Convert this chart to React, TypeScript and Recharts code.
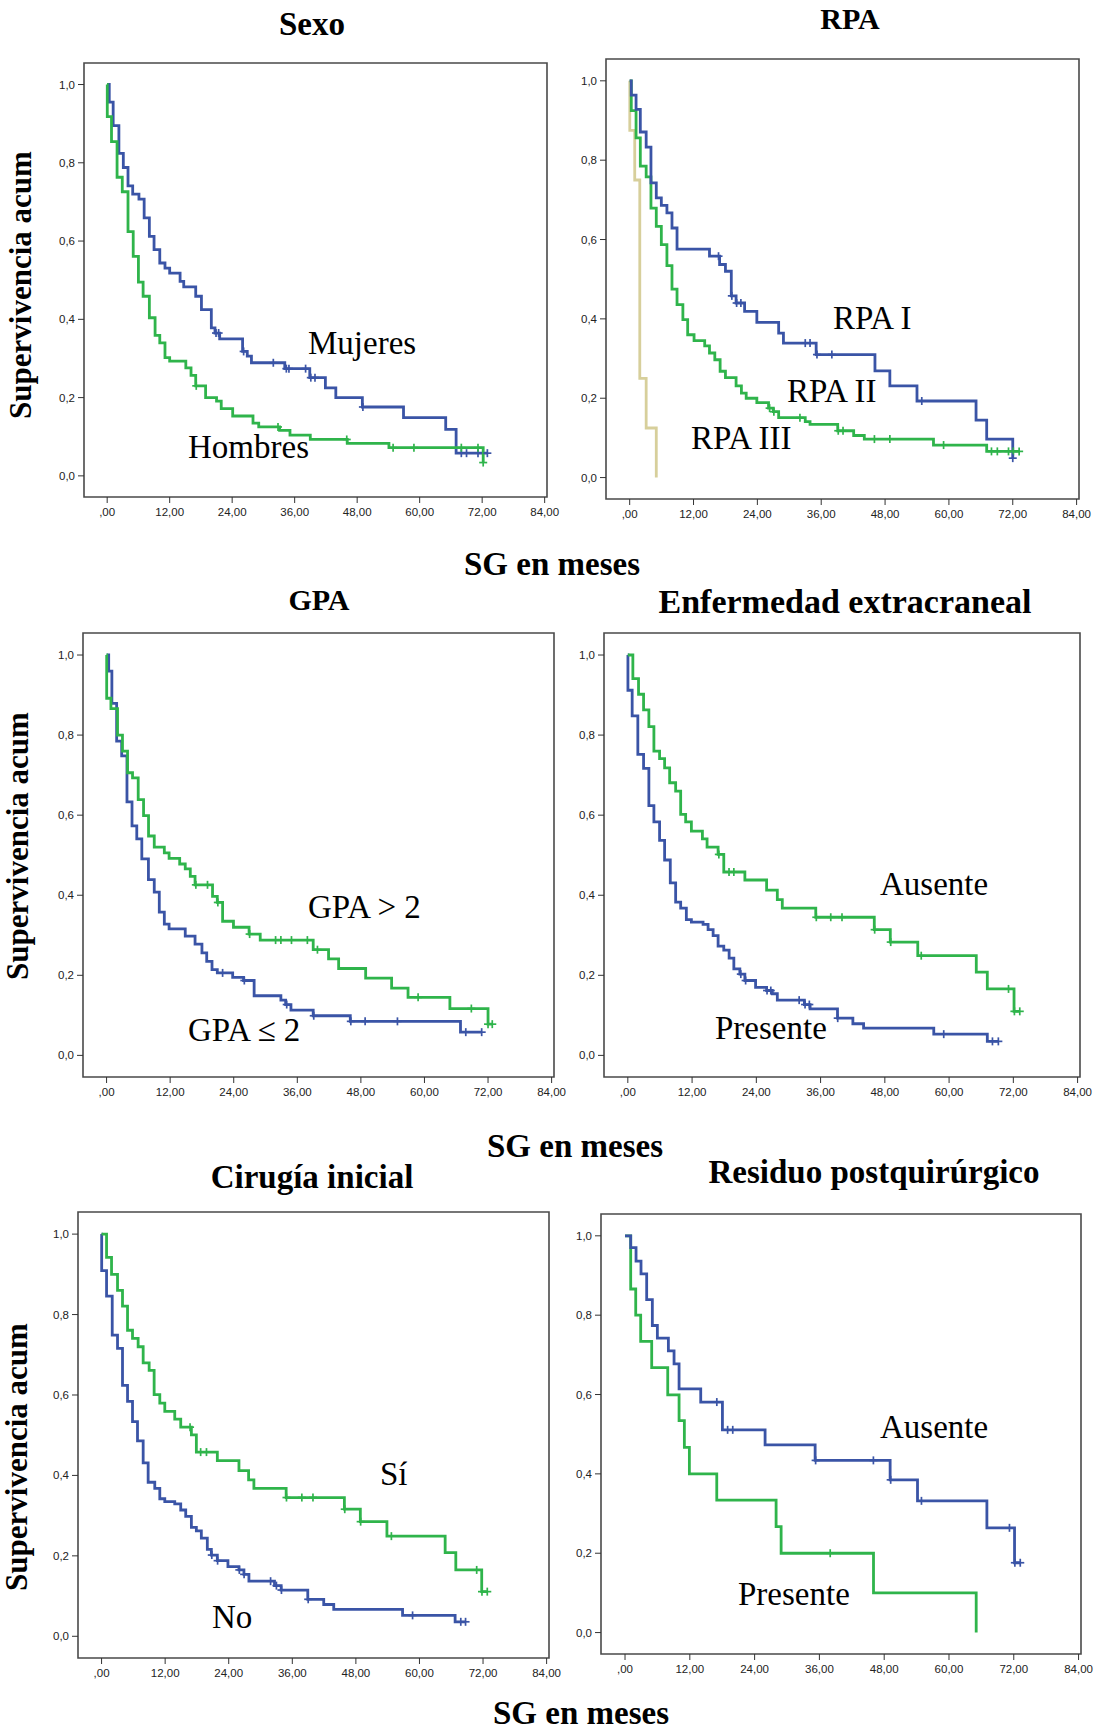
import React from "react"
import { LineChart, Line, XAxis, YAxis, ReferenceArea } from "recharts"

const BLUE = "#3a54a6"
const GREEN = "#2fb44b"
const BEIGE = "#d7cf9b"

const X_MIN = -4.45
const X_MAX = 84.45
const Y_MIN = -0.054
const Y_MAX = 1.055

const xTicks = [0, 12, 24, 36, 48, 60, 72, 84]
const xTickLabels = [",00", "12,00", "24,00", "36,00", "48,00", "60,00", "72,00", "84,00"]
const yTicks = [0, 0.2, 0.4, 0.6, 0.8, 1.0]
const yTickLabels = ["0,0", "0,2", "0,4", "0,6", "0,8", "1,0"]

// Sexo
const mujeresT = [0, 0.4, 1.15, 2.25, 3.1, 4.0, 4.9, 6.1, 7.1, 8.1, 9.0, 10.1, 11.1, 12.0, 14.0, 14.7, 17.0, 18.1, 20.0, 20.7, 21.6, 26.0, 26.9, 27.7, 34.1, 38.9, 41.9, 43.9, 49.0, 56.9, 65.0, 67.0]
const mujeresS = [1, 0.955, 0.895, 0.824, 0.788, 0.741, 0.72, 0.707, 0.659, 0.612, 0.578, 0.544, 0.531, 0.518, 0.497, 0.483, 0.459, 0.425, 0.378, 0.365, 0.35, 0.318, 0.306, 0.289, 0.274, 0.251, 0.225, 0.2, 0.176, 0.149, 0.119, 0.058]
const mujeresC = [20.9, 21.4, 26.2, 31.9, 34.4, 34.9, 38.1, 39.1, 39.9, 49.1, 68.0, 69.0, 71.2, 73.0]

const hombresT = [0, 0.02, 0.83, 1.9, 2.9, 4.0, 5.0, 6.0, 6.9, 8.1, 9.2, 10.1, 11.1, 12.0, 15.1, 16.1, 17.0, 18.9, 21.0, 21.9, 24.1, 28.0, 29.1, 33.1, 35.1, 39.0, 46.1, 54.1, 72.2]
const hombresS = [1, 0.918, 0.854, 0.763, 0.726, 0.624, 0.561, 0.495, 0.459, 0.404, 0.359, 0.34, 0.302, 0.293, 0.276, 0.257, 0.23, 0.2, 0.191, 0.172, 0.153, 0.135, 0.125, 0.116, 0.104, 0.093, 0.083, 0.072, 0.034]
const hombresC = [17.1, 32.8, 46.0, 54.9, 58.9, 68.0, 71.2, 72.2]

// RPA
const rpa1T = [0, 0.3, 1.2, 2.0, 3.1, 4.0, 5.0, 5.95, 7.0, 7.95, 8.9, 15.0, 16.9, 18.0, 19.1, 20.0, 21.6, 23.9, 28.0, 28.9, 35.05, 46.1, 48.9, 54.0, 65.1, 67.1, 72.0]
const rpa1S = [1, 0.964, 0.928, 0.871, 0.833, 0.743, 0.705, 0.686, 0.667, 0.629, 0.576, 0.558, 0.537, 0.52, 0.458, 0.44, 0.419, 0.391, 0.364, 0.339, 0.31, 0.269, 0.231, 0.193, 0.145, 0.097, 0.049]
const rpa1C = [16.7, 19.2, 20.1, 20.9, 33.0, 33.9, 35.2, 38.0, 54.9, 72.0]

const rpa2T = [0, 0.3, 1.2, 2.0, 3.1, 4.0, 5.0, 5.95, 7.0, 7.95, 8.9, 10.0, 10.9, 12.1, 14.1, 15.0, 16.0, 17.0, 18.0, 20.0, 21.0, 21.9, 23.9, 26.1, 27.0, 28.0, 33.0, 33.9, 39.1, 42.1, 44.1, 57.1, 67.1]
const rpa2S = [1, 0.925, 0.856, 0.785, 0.758, 0.679, 0.633, 0.587, 0.534, 0.475, 0.436, 0.398, 0.36, 0.345, 0.332, 0.314, 0.297, 0.268, 0.252, 0.231, 0.213, 0.2, 0.189, 0.175, 0.166, 0.151, 0.141, 0.134, 0.118, 0.106, 0.097, 0.082, 0.066]
const rpa2C = [26.3, 27.1, 32.0, 39.2, 40.1, 46.0, 48.9, 59.0, 68.0, 69.1, 71.2, 72.1, 73.2]

const rpa3T = [0, 0.02, 0.95, 1.9, 3.1, 5.0]
const rpa3S = [1, 0.875, 0.75, 0.25, 0.125, 0]
const rpa3C: number[] = []

// GPA
const gpaLowT = [0, 0.4, 1.0, 1.9, 2.85, 3.85, 4.8, 5.7, 6.65, 7.9, 9.0, 9.95, 10.9, 11.8, 14.85, 16.7, 18.0, 18.9, 19.9, 20.9, 23.8, 25.85, 27.85, 32.9, 33.8, 34.8, 39.0, 46.0, 66.8]
const gpaLowS = [1, 0.96, 0.879, 0.785, 0.748, 0.633, 0.573, 0.541, 0.491, 0.439, 0.408, 0.358, 0.328, 0.316, 0.298, 0.278, 0.256, 0.235, 0.214, 0.206, 0.195, 0.187, 0.149, 0.138, 0.127, 0.113, 0.099, 0.085, 0.058]
const gpaLowC = [21.9, 26.0, 34.0, 39.1, 46.1, 48.8, 54.9, 67.8, 70.8]

const gpaHighT = [0, 0.02, 0.82, 2.07, 3.0, 3.96, 4.9, 5.97, 6.98, 7.92, 9.0, 10.9, 11.8, 13.8, 14.85, 15.8, 16.7, 20.0, 20.9, 21.9, 23.95, 26.9, 29.0, 39.0, 41.9, 43.8, 48.9, 53.8, 56.9, 64.8, 72.0]
const gpaHighS = [1, 0.892, 0.866, 0.8, 0.76, 0.706, 0.693, 0.639, 0.599, 0.548, 0.52, 0.506, 0.492, 0.478, 0.466, 0.447, 0.426, 0.397, 0.382, 0.335, 0.32, 0.303, 0.288, 0.264, 0.241, 0.217, 0.193, 0.168, 0.145, 0.117, 0.078]
const gpaHighC = [16.85, 19.05, 21.0, 27.0, 31.9, 32.9, 34.9, 37.9, 39.8, 58.8, 68.85, 72.0, 72.8]

// Enfermedad extracraneal
const extAusT = [0, 0.94, 2.0, 2.94, 3.93, 4.87, 5.93, 6.87, 7.81, 8.93, 9.87, 10.8, 11.87, 13.93, 14.8, 16.86, 17.92, 21.86, 25.92, 27.92, 28.85, 35.1, 46.03, 49.02, 54.15, 65.08, 67.14, 72.13]
const extAusS = [1, 0.941, 0.902, 0.863, 0.821, 0.76, 0.741, 0.718, 0.681, 0.66, 0.602, 0.583, 0.56, 0.541, 0.52, 0.502, 0.458, 0.438, 0.413, 0.389, 0.368, 0.345, 0.314, 0.283, 0.249, 0.208, 0.166, 0.11]
const extAusC = [17.0, 18.9, 19.8, 35.2, 37.9, 40.0, 46.1, 49.1, 54.8, 71.1, 72.2, 73.2]

const extPresT = [0, 0.02, 0.81, 1.87, 2.94, 3.93, 4.87, 5.93, 6.87, 7.93, 8.93, 9.87, 10.93, 11.87, 14.05, 14.99, 15.93, 16.86, 17.92, 18.92, 19.8, 20.92, 21.86, 23.86, 25.92, 26.98, 27.92, 32.98, 34.04, 39.16, 42.03, 44.03, 57.14, 67.14]
const extPresS = [1, 0.912, 0.848, 0.752, 0.717, 0.624, 0.583, 0.537, 0.488, 0.431, 0.383, 0.368, 0.339, 0.333, 0.327, 0.314, 0.299, 0.273, 0.263, 0.243, 0.216, 0.203, 0.187, 0.17, 0.162, 0.154, 0.138, 0.127, 0.116, 0.093, 0.079, 0.068, 0.053, 0.035]
const extPresC = [21.1, 22.0, 26.0, 26.7, 32.0, 33.1, 33.9, 39.2, 59.0, 68.1, 69.2]

// Cirugía inicial
const cirSiT = [0, 0.94, 1.88, 3.01, 3.95, 4.9, 5.84, 6.9, 7.85, 8.98, 9.92, 10.99, 11.93, 13.81, 14.94, 16.95, 17.89, 21.85, 25.93, 27.75, 28.75, 34.84, 45.83, 48.84, 53.86, 64.85, 66.86, 71.75]
const cirSiS = [1, 0.942, 0.9, 0.86, 0.821, 0.761, 0.741, 0.72, 0.68, 0.661, 0.601, 0.58, 0.559, 0.54, 0.52, 0.501, 0.458, 0.437, 0.412, 0.389, 0.368, 0.345, 0.316, 0.285, 0.249, 0.208, 0.165, 0.111]
const cirSiC = [16.7, 18.7, 19.8, 34.9, 37.8, 39.9, 45.9, 48.9, 54.7, 70.8, 71.8, 72.8]

const cirNoT = [0, 0.02, 0.94, 2.01, 3.01, 3.95, 4.9, 5.84, 6.78, 7.85, 8.79, 10.04, 10.99, 11.93, 13.81, 14.94, 15.88, 16.95, 17.89, 18.83, 19.96, 20.72, 21.85, 23.85, 25.93, 26.87, 27.81, 32.64, 33.9, 38.92, 41.93, 43.82, 56.81, 66.73]
const cirNoS = [1, 0.909, 0.846, 0.749, 0.716, 0.624, 0.584, 0.534, 0.486, 0.431, 0.383, 0.368, 0.342, 0.335, 0.329, 0.314, 0.298, 0.271, 0.262, 0.244, 0.216, 0.202, 0.188, 0.173, 0.165, 0.154, 0.137, 0.126, 0.115, 0.092, 0.079, 0.067, 0.052, 0.036]
const cirNoC = [20.8, 21.9, 26.0, 26.9, 31.9, 33.0, 33.95, 39.0, 58.7, 67.8, 68.7]

// Residuo postquirúrgico
const resAusT = [0, 1.05, 2.04, 2.96, 4.01, 5.06, 5.99, 8.03, 9.08, 10.01, 14.02, 18.04, 25.94, 35.21, 49.1, 54.17, 67.02, 72.14]
const resAusS = [1, 0.97, 0.936, 0.904, 0.839, 0.774, 0.742, 0.71, 0.677, 0.614, 0.581, 0.511, 0.473, 0.434, 0.385, 0.332, 0.264, 0.176]
const resAusC = [17.0, 19.0, 19.95, 35.3, 46.0, 49.2, 54.9, 71.2, 72.2, 73.2]

const resPresT = [0, 1.05, 1.98, 2.9, 4.94, 7.91, 10.01, 10.99, 11.92, 16.99, 27.98, 28.91, 46.02, 65.04]
const resPresS = [1, 0.866, 0.8, 0.734, 0.668, 0.599, 0.534, 0.467, 0.4, 0.334, 0.267, 0.2, 0.1, 0]
const resPresC = [38.0]

type Pt = { t: number; s: number; c: boolean }

// merge step events and censor times into one series for a stepAfter line
function km(times: number[], surv: number[], cens: number[]): Pt[] {
  const pts: Pt[] = times.map((t, i) => ({ t, s: surv[i], c: false }))
  cens.forEach(ct => {
    let s = surv[0]
    times.forEach((t, i) => { if (t <= ct) s = surv[i] })
    pts.push({ t: ct, s, c: true })
  })
  return pts.sort((a, b) => a.t - b.t || (a.c ? 1 : 0) - (b.c ? 1 : 0))
}

const censorDot = (color: string) => (props: any) => {
  const { cx, cy, payload, index } = props
  if (!payload || !payload.c) return <g key={index} />
  return (
    <g key={index}>
      <line x1={cx} y1={cy - 4} x2={cx} y2={cy + 4} stroke={color} strokeWidth={1.7} />
      <line x1={cx - 4} y1={cy} x2={cx + 4} y2={cy} stroke={color} strokeWidth={1.7} />
    </g>
  )
}

interface Curve { data: Pt[]; color: string }
interface Box { l: number; t: number; r: number; b: number }

const tickStyle = { fontSize: 11.5, fill: "#222", fontFamily: "Liberation Sans, Arial, sans-serif" }

function Panel({ box, curves }: { box: Box; curves: Curve[] }) {
  const w = box.r - box.l
  const h = box.b - box.t
  return (
    <div style={{ position: "absolute", left: box.l - 60, top: box.t - 10 }}>
      <LineChart width={w + 80} height={h + 50} margin={{ top: 10, right: 20, bottom: 0, left: 0 }}>
        <XAxis
          type="number" dataKey="t" domain={[X_MIN, X_MAX]} allowDataOverflow
          ticks={xTicks} interval={0} height={40} axisLine={false}
          tickSize={6} tickMargin={5} tickLine={{ stroke: "#333" }} tick={tickStyle}
          tickFormatter={(v: number) => xTickLabels[xTicks.indexOf(v)]}
        />
        <YAxis
          type="number" domain={[Y_MIN, Y_MAX]} allowDataOverflow
          ticks={yTicks} interval={0} width={60} axisLine={false}
          tickSize={6} tickMargin={3} tickLine={{ stroke: "#333" }} tick={tickStyle}
          tickFormatter={(v: number) => yTickLabels[yTicks.findIndex(y => Math.abs(y - v) < 1e-6)]}
        />
        <ReferenceArea
          x1={X_MIN} x2={X_MAX} y1={Y_MIN} y2={Y_MAX}
          fill="none" stroke="#4a4a4a" strokeWidth={1.6} ifOverflow="visible"
        />
        {curves.map((c, i) => (
          <Line
            key={i} data={c.data} dataKey="s" type="stepAfter"
            stroke={c.color} strokeWidth={2.8} dot={censorDot(c.color)}
            activeDot={false} isAnimationActive={false}
          />
        ))}
      </LineChart>
    </div>
  )
}

const serif = "Liberation Serif, Times New Roman, serif"

export default function App() {
  return (
    <div style={{ position: "absolute", left: 0, top: 0, width: 1105, height: 1731, background: "#fff", overflow: "hidden" }}>
      <Panel box={{ l: 84, t: 63, r: 547, b: 497 }} curves={[
        { data: km(mujeresT, mujeresS, mujeresC), color: BLUE },
        { data: km(hombresT, hombresS, hombresC), color: GREEN },
      ]} />
      <Panel box={{ l: 606, t: 59, r: 1079, b: 499 }} curves={[
        { data: km(rpa3T, rpa3S, rpa3C), color: BEIGE },
        { data: km(rpa2T, rpa2S, rpa2C), color: GREEN },
        { data: km(rpa1T, rpa1S, rpa1C), color: BLUE },
      ]} />
      <Panel box={{ l: 83, t: 633, r: 554, b: 1077 }} curves={[
        { data: km(gpaLowT, gpaLowS, gpaLowC), color: BLUE },
        { data: km(gpaHighT, gpaHighS, gpaHighC), color: GREEN },
      ]} />
      <Panel box={{ l: 604, t: 633, r: 1080, b: 1077 }} curves={[
        { data: km(extPresT, extPresS, extPresC), color: BLUE },
        { data: km(extAusT, extAusS, extAusC), color: GREEN },
      ]} />
      <Panel box={{ l: 78, t: 1212, r: 549, b: 1658 }} curves={[
        { data: km(cirNoT, cirNoS, cirNoC), color: BLUE },
        { data: km(cirSiT, cirSiS, cirSiC), color: GREEN },
      ]} />
      <Panel box={{ l: 601, t: 1214, r: 1081, b: 1654 }} curves={[
        { data: km(resPresT, resPresS, resPresC), color: GREEN },
        { data: km(resAusT, resAusS, resAusC), color: BLUE },
      ]} />

      <svg width={1105} height={1731} style={{ position: "absolute", left: 0, top: 0, pointerEvents: "none" }}>
        <g fontFamily={serif} fontWeight="bold" fontSize={33} fill="#000" textAnchor="middle">
          <text x={312} y={35}>Sexo</text>
          <text x={850} y={29} fontSize={30}>RPA</text>
          <text x={552} y={575}>SG en meses</text>
          <text x={319} y={610} fontSize={30}>GPA</text>
          <text x={845} y={613} fontSize={34}>Enfermedad extracraneal</text>
          <text x={575} y={1157}>SG en meses</text>
          <text x={312} y={1188}>Cirugía inicial</text>
          <text x={874} y={1183}>Residuo postquirúrgico</text>
          <text x={581} y={1724}>SG en meses</text>
          <text x={31} y={285} fontSize={31} transform="rotate(-90 31 285)">Supervivencia acum</text>
          <text x={28} y={846} fontSize={31} transform="rotate(-90 28 846)">Supervivencia acum</text>
          <text x={27} y={1457} fontSize={31} transform="rotate(-90 27 1457)">Supervivencia acum</text>
        </g>
        <g fontFamily={serif} fontSize={33} fill="#000">
          <text x={308} y={354}>Mujeres</text>
          <text x={188} y={458}>Hombres</text>
          <text x={833} y={329}>RPA I</text>
          <text x={787} y={402}>RPA II</text>
          <text x={691} y={449}>RPA III</text>
          <text x={308} y={918}>GPA &gt; 2</text>
          <text x={188} y={1041}>GPA ≤  2</text>
          <text x={880} y={895}>Ausente</text>
          <text x={715} y={1039}>Presente</text>
          <text x={380} y={1485}>Sí</text>
          <text x={212} y={1628}>No</text>
          <text x={880} y={1438}>Ausente</text>
          <text x={738} y={1605}>Presente</text>
        </g>
      </svg>
    </div>
  )
}
